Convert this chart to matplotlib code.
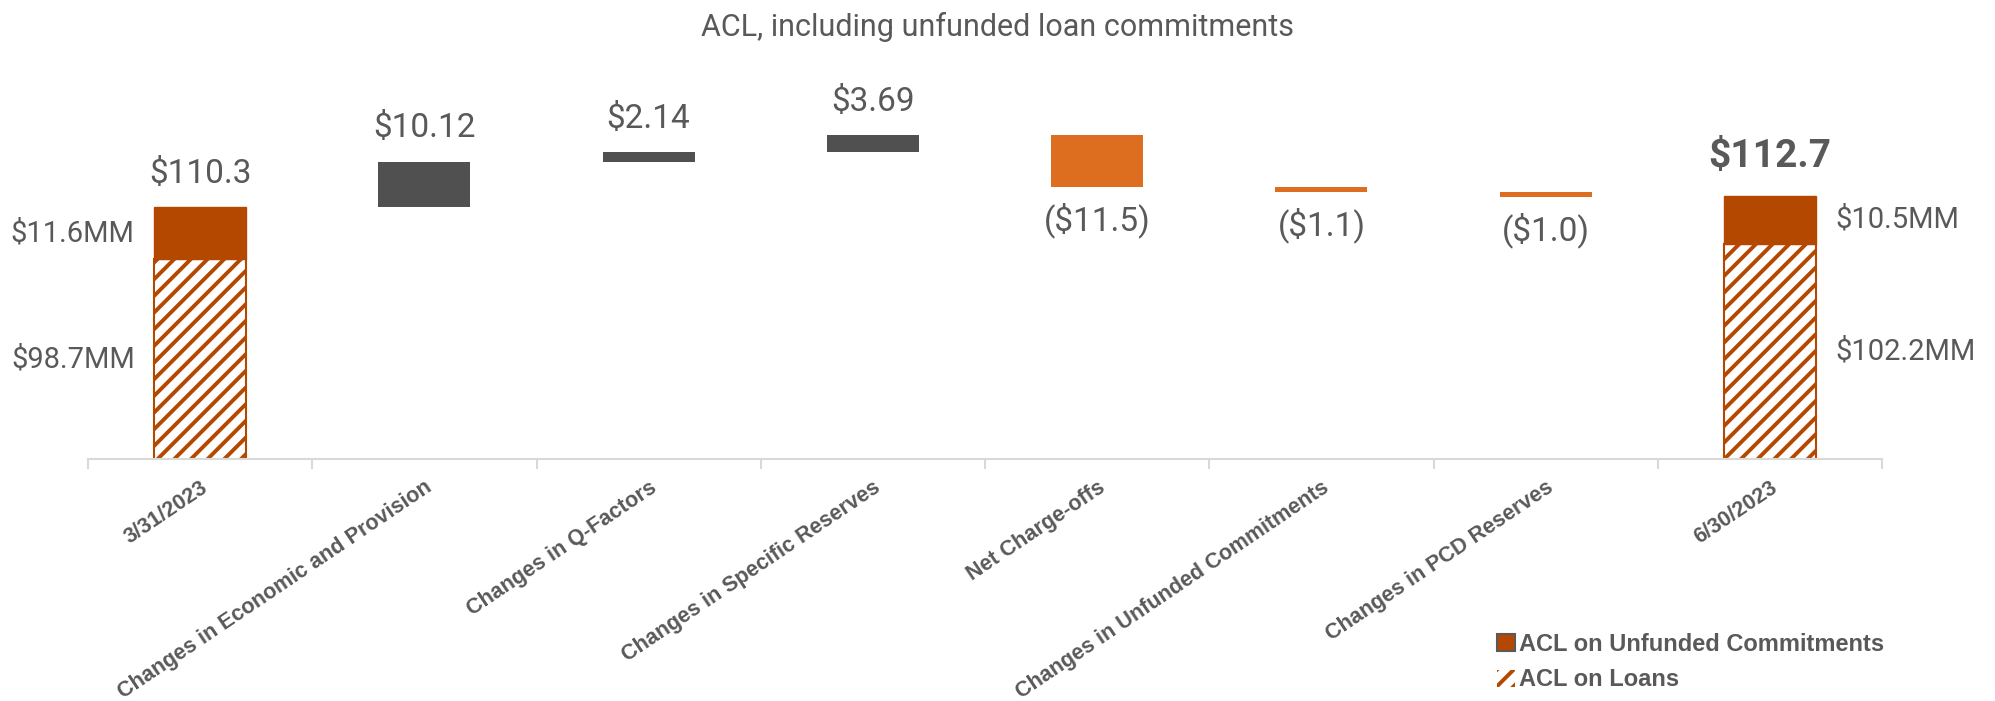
import matplotlib.pyplot as plt
from matplotlib.patches import Rectangle

categories = [
    "3/31/2023",
    "Changes in Economic and Provision",
    "Changes in Q-Factors",
    "Changes in Specific Reserves",
    "Net Charge-offs",
    "Changes in Unfunded Commitments",
    "Changes in PCD Reserves",
    "6/30/2023",
]
start_loans = 98.7
start_unfunded = 11.6
end_loans = 102.2
end_unfunded = 10.5
changes = [10.12, 2.14, 3.69, -11.5, -1.1, -1.0]
change_labels = ["$10.12", "$2.14", "$3.69", "($11.5)", "($1.1)", "($1.0)"]
start_label = "$110.3"
end_label = "$112.7"

GRAY = "#505050"
ORANGE = "#DD6D1F"
BROWN = "#B54800"
TEXT = "#595959"
AXIS = "#D9D9D9"
FLOOR = 54.3
WIDTH = 0.41

plt.rcParams["font.family"] = ["Roboto", "DejaVu Sans"]
plt.rcParams["hatch.linewidth"] = 2.8


def main():
    fig = plt.figure(figsize=(19.95, 7.01), dpi=100)
    ax = fig.add_axes([88 / 1995, 242 / 701, 1794 / 1995, 399 / 701])
    ax.set_xlim(-0.5, len(categories) - 0.5)
    ax.set_ylim(FLOOR, 143.0)

    # opening and closing balances, stacked
    n = len(categories)
    for x, loans, unfunded in [(0, start_loans, start_unfunded), (n - 1, end_loans, end_unfunded)]:
        ax.bar(x, loans, WIDTH, color="white", edgecolor=BROWN, hatch="//",
               linewidth=1.5, zorder=2)
        ax.bar(x, unfunded, WIDTH, bottom=loans, color=BROWN, edgecolor=BROWN,
               linewidth=1, zorder=2)

    # floating change bars
    level = start_loans + start_unfunded
    for i, (d, lab) in enumerate(zip(changes, change_labels), start=1):
        color = GRAY if d > 0 else ORANGE
        ax.bar(i, d, WIDTH, bottom=level, color=color, linewidth=0, zorder=2)
        top, bot = max(level, level + d), min(level, level + d)
        if d > 0:
            ax.annotate(lab, (i, top), xytext=(0, 24), textcoords="offset points",
                        ha="center", va="center", fontsize=24, color=TEXT)
        else:
            ax.annotate(lab, (i, bot), xytext=(0, -24), textcoords="offset points",
                        ha="center", va="center", fontsize=24, color=TEXT)
        level += d

    ax.annotate(start_label, (0, start_loans + start_unfunded), xytext=(0, 24),
                textcoords="offset points", ha="center", va="center",
                fontsize=24, color=TEXT)
    ax.annotate(end_label, (n - 1, end_loans + end_unfunded), xytext=(0, 29),
                textcoords="offset points", ha="center", va="center",
                fontsize=28, fontweight="bold", color=TEXT)

    # segment labels beside the stacked bars
    ax.annotate(f"${start_unfunded}MM", (-WIDTH / 2, start_loans + start_unfunded / 2),
                xytext=(-14, 0), textcoords="offset points", ha="right",
                va="center", fontsize=21, color=TEXT)
    ax.annotate(f"${start_loans}MM", (-WIDTH / 2, (FLOOR + start_loans) / 2),
                xytext=(-14, 0), textcoords="offset points", ha="right",
                va="center", fontsize=21, color=TEXT)
    ax.annotate(f"${end_unfunded}MM", (n - 1 + WIDTH / 2, end_loans + end_unfunded / 2),
                xytext=(14, 0), textcoords="offset points", ha="left",
                va="center", fontsize=21, color=TEXT)
    ax.annotate(f"${end_loans}MM", (n - 1 + WIDTH / 2, (FLOOR + end_loans) / 2),
                xytext=(14, 0), textcoords="offset points", ha="left",
                va="center", fontsize=21, color=TEXT)

    for side in ["top", "right", "left"]:
        ax.spines[side].set_visible(False)
    ax.spines["bottom"].set_color(AXIS)
    ax.spines["bottom"].set_linewidth(1.5)
    ax.spines["bottom"].set_zorder(3)
    ax.set_yticks([])

    ax.set_xticks(range(n))
    ax.set_xticks([i - 0.5 for i in range(n + 1)], minor=True)
    ax.tick_params(axis="x", which="major", length=0, pad=13)
    ax.tick_params(axis="x", which="minor", length=7, width=1.5, color=AXIS)
    ax.set_xticklabels(categories, rotation=34, ha="right", va="top",
                       rotation_mode="anchor", fontsize=15.5, fontweight="bold",
                       color=TEXT, family=["Liberation Sans", "DejaVu Sans"])

    fig.text(0.5, 0.962, "ACL, including unfunded loan commitments", ha="center",
             va="center", fontsize=22, color=TEXT)

    handles = [
        Rectangle((0, 0), 1, 1, facecolor=BROWN, edgecolor=TEXT, linewidth=1.5),
        Rectangle((0, 0), 1, 1, facecolor="white", edgecolor=BROWN, hatch="//",
                  linewidth=0),
    ]
    fig.legend(handles, ["ACL on Unfunded Commitments", "ACL on Loans"],
               loc="center left", bbox_to_anchor=(1488 / 1995, 1 - 662 / 701),
               frameon=False, handlelength=0.75, handleheight=0.75,
               handletextpad=0.15, labelspacing=0.55, borderaxespad=0,
               labelcolor=TEXT,
               prop={"family": ["Liberation Sans", "DejaVu Sans"],
                     "weight": "bold", "size": 17})

    fig.savefig("out.png", dpi=100, facecolor="white")


if __name__ == "__main__":
    main()
